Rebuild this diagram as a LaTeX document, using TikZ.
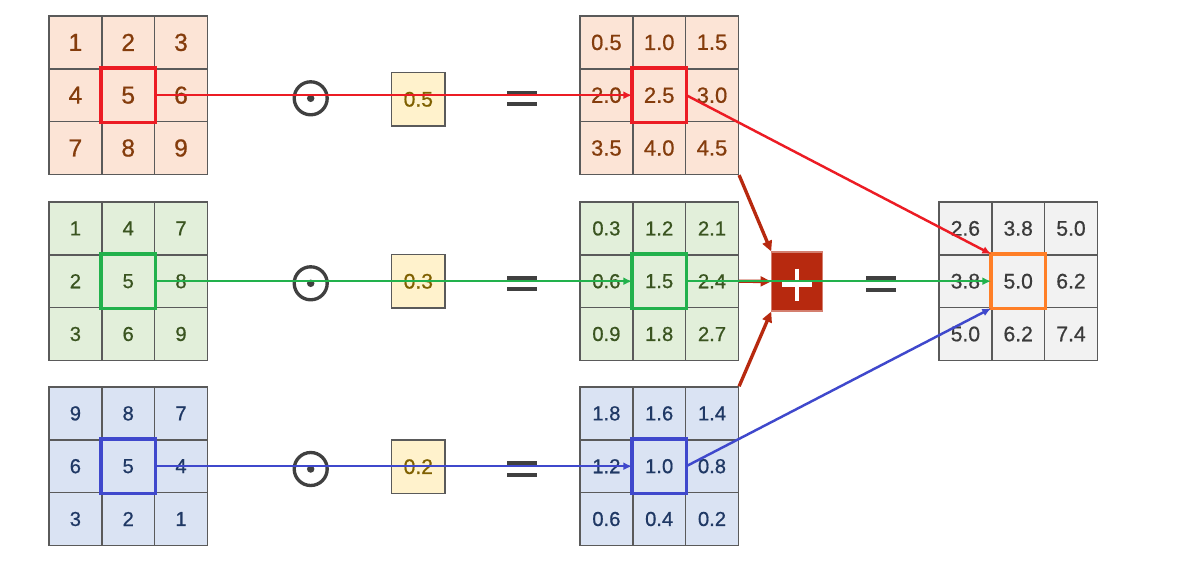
\documentclass[tikz,border=0pt]{standalone}
\usepackage{fontspec}
\setmainfont{Liberation Sans}[FakeBold=0.7]
\usepackage{tikz}
\usetikzlibrary{arrows.meta}

\definecolor{gridline}{HTML}{5A5A5A}
\definecolor{peachfill}{HTML}{FCE4D6}
\definecolor{browntext}{HTML}{843C0C}
\definecolor{greenfill}{HTML}{E2EFDA}
\definecolor{greentext}{HTML}{3A5420}
\definecolor{bluefill}{HTML}{DAE3F3}
\definecolor{bluetext}{HTML}{1F3864}
\definecolor{grayfill}{HTML}{F2F2F2}
\definecolor{graytext}{HTML}{3B3B3B}
\definecolor{wfill}{HTML}{FFF2CC}
\definecolor{wtext}{HTML}{7F6000}
\definecolor{opgray}{HTML}{404040}
\definecolor{hlred}{HTML}{EC1C24}
\definecolor{hlgreen}{HTML}{22B14C}
\definecolor{hlblue}{HTML}{3F48CC}
\definecolor{hlorange}{HTML}{FF7F27}
\definecolor{sumred}{HTML}{B7290F}

\begin{document}
\begin{tikzpicture}[x=0.02cm,y=-0.02cm,
  cell/.style={draw=gridline, line width=0.8pt, minimum size=1.056cm, inner sep=0pt},
  weight/.style={draw=gridline, line width=0.8pt, fill=wfill, text=wtext,
    minimum size=1.07cm, inner sep=0pt, font=\fontsize{12}{12}\selectfont},
  odot/.style={circle, draw=opgray, line width=1.9pt, minimum size=0.66cm, inner sep=0pt},
  eqbar/.style={opgray, line width=1.9pt},
  hl/.style={line width=2pt},
  flow/.style={line width=1.4pt, -{Latex[length=5pt,width=4.5pt]}},
  feed/.style={sumred, line width=1.9pt, -{Triangle[length=6pt,width=5.5pt]}}]
  \useasboundingbox (0,0) rectangle (1179,564);

  % Grids: inputs, scaled channels, sum
  \foreach \g/\gx/\gy/\gf/\gt/\gs/\vals in {
      chR/75.4/42.4/peachfill/browntext/14/{1,2,3,4,5,6,7,8,9},
      chG/75.4/228.4/greenfill/greentext/11.5/{1,4,7,2,5,8,3,6,9},
      chB/75.4/413.4/bluefill/bluetext/11.5/{9,8,7,6,5,4,3,2,1},
      scR/606.4/42.4/peachfill/browntext/12.5/{0.5,1.0,1.5,2.0,2.5,3.0,3.5,4.0,4.5},
      scG/606.4/228.4/greenfill/greentext/11.5/{0.3,1.2,2.1,0.6,1.5,2.4,0.9,1.8,2.7},
      scB/606.4/413.4/bluefill/bluetext/11.5/{1.8,1.6,1.4,1.2,1.0,0.8,0.6,0.4,0.2},
      out/965.4/228.4/grayfill/graytext/12/{2.6,3.8,5.0,3.8,5.0,6.2,5.0,6.2,7.4}}
    \foreach \v [count=\i from 0] in \vals {
      \pgfmathtruncatemacro\r{\i/3}
      \pgfmathtruncatemacro\c{mod(\i,3)}
      \node[cell, fill=\gf, text=\gt, font=\fontsize{\gs}{\gs}\selectfont]
        (\g-\r\c) at ({\gx+52.8*\c},{\gy+52.8*\r}) {\v};
    }

  % Highlighted centre cells
  \draw[hl, hlred] (chR-11.south west) rectangle (chR-11.north east);
  \draw[hl, hlgreen] (chG-11.south west) rectangle (chG-11.north east);
  \draw[hl, hlblue] (chB-11.south west) rectangle (chB-11.north east);
  \draw[hl, hlred] (scR-11.south west) rectangle (scR-11.north east);
  \draw[hl, hlgreen] (scG-11.south west) rectangle (scG-11.north east);
  \draw[hl, hlblue] (scB-11.south west) rectangle (scB-11.north east);
  \draw[hl, hlorange] (out-11.south west) rectangle (out-11.north east);

  % Hadamard operators
  \node[odot] (opR) at (310.7,98.3) {};
  \node[odot] (opG) at (310.7,283.3) {};
  \node[odot] (opB) at (310.7,469) {};
  \foreach \o in {opR,opG,opB}
    \fill[opgray] (\o) circle (0.075cm);

  % Weights
  \node[weight] (wR) at (418.3,99.3) {0.5};
  \node[weight] (wG) at (418.3,281.3) {0.3};
  \node[weight] (wB) at (418.3,466.7) {0.2};

  % Equals
  \draw[eqbar] (507,93) -- (537,93) (507,104) -- (537,104);
  \draw[eqbar] (507,278) -- (537,278) (507,289) -- (537,289);
  \draw[eqbar] (507,463) -- (537,463) (507,475) -- (537,475);
  \draw[eqbar] (866,278) -- (896,278) (866,290) -- (896,290);

  % Sum
  \node[fill=sumred, draw=sumred!60!white, line width=0.6pt, minimum width=1.01cm,
    minimum height=1.18cm, inner sep=0pt] (sum) at (797,281.5) {};
  \draw[white, line width=2.6pt] ([shift={(-15,3)}]sum.center) -- ([shift={(15,3)}]sum.center)
    ([shift={(0,-13)}]sum.center) -- ([shift={(0,19)}]sum.center);
  \draw[feed] (scR-22.south east) -- (sum.north west);
  \draw[feed] (scG-12.east) -- (sum.west);
  \draw[feed] (scB-02.north east) -- (sum.south west);

  % Flows
  \draw[flow, hlred] (chR-11.east) -- (scR-11.west);
  \draw[flow, hlgreen] (chG-11.east) -- (scG-11.west);
  \draw[flow, hlblue] (chB-11.east) -- (scB-11.west);
  \draw[flow, hlred] (scR-11.east) -- (out-11.north west);
  \draw[flow, hlgreen] (scG-11.east) -- (out-11.west);
  \draw[flow, hlblue] (scB-11.east) -- (out-11.south west);
\end{tikzpicture}
\end{document}
